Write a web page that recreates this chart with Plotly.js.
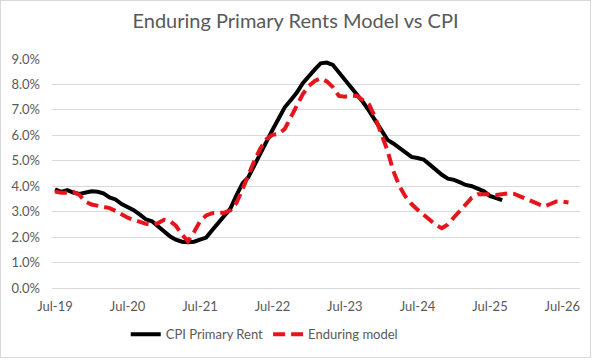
<!DOCTYPE html>
<html>
<head>
<meta charset="utf-8">
<script src="https://cdn.plot.ly/plotly-3.0.1.min.js"></script>
<style>
  html, body { margin: 0; padding: 0; background: #ffffff; }
  #chart { position: absolute; left: 0; top: 0; width: 589px; height: 356px; border: 1px solid #d9d9d9; }
</style>
</head>
<body>
<div id="chart"></div>
<script>
// Monthly observations starting Jul-2019
const startMonth = "2019-07-01";

const seriesNames = ["CPI Primary Rent", "Enduring model"];

// CPI Primary Rent, % y/y, Jul-19 .. Sep-25
const cpiPrimaryRent = [
  3.88, 3.78, 3.85, 3.75, 3.70, 3.76, 3.80, 3.78, 3.72, 3.56, 3.48, 3.30,
  3.20, 3.06, 2.88, 2.70, 2.62, 2.42, 2.22, 2.02, 1.90, 1.82, 1.80, 1.82,
  1.90, 1.98, 2.28, 2.55, 2.82, 3.12, 3.65, 4.12, 4.35, 4.85, 5.27, 5.75,
  6.21, 6.69, 7.10, 7.38, 7.68, 8.05, 8.35, 8.60, 8.83, 8.86, 8.77, 8.48,
  8.18, 7.92, 7.60, 7.30, 6.95, 6.60, 6.25, 5.82, 5.68, 5.50, 5.33, 5.15,
  5.11, 5.05, 4.85, 4.65, 4.45, 4.30, 4.25, 4.15, 4.05, 4.00, 3.92, 3.80,
  3.62, 3.52, 3.45
];

// Enduring model, % y/y, Jul-19 .. Aug-26
const enduringModel = [
  3.79, 3.74, 3.74, 3.78, 3.66, 3.40, 3.28, 3.22, 3.20, 3.14, 3.03, 2.90,
  2.76, 2.68, 2.58, 2.52, 2.48, 2.55, 2.68, 2.62, 2.45, 2.10, 1.84, 2.20,
  2.62, 2.85, 2.94, 2.94, 2.96, 3.05, 3.35, 3.90, 4.45, 5.00, 5.48, 5.85,
  6.02, 6.06, 6.25, 6.68, 7.15, 7.62, 7.95, 8.15, 8.24, 8.12, 7.90, 7.55,
  7.52, 7.56, 7.55, 7.38, 7.20, 6.70, 6.10, 5.40, 4.60, 4.00, 3.60, 3.30,
  3.08, 2.88, 2.70, 2.48, 2.35, 2.50, 2.78, 3.05, 3.33, 3.55, 3.68, 3.70,
  3.68, 3.66, 3.68, 3.72, 3.70, 3.60, 3.53, 3.42, 3.30, 3.20, 3.30, 3.40,
  3.40, 3.36
];

const yTickVals = [0, 1, 2, 3, 4, 5, 6, 7, 8, 9];
const yTickLabels = ["0.0%", "1.0%", "2.0%", "3.0%", "4.0%", "5.0%", "6.0%", "7.0%", "8.0%", "9.0%"];

function monthDates(n) {
  const out = [];
  const [y0, m0] = startMonth.split("-").map(Number);
  for (let i = 0; i < n; i++) {
    const t = (m0 - 1) + i;
    const y = y0 + Math.floor(t / 12);
    const m = (t % 12) + 1;
    out.push(y + "-" + String(m).padStart(2, "0") + "-01");
  }
  return out;
}

const font = "Lato, 'Open Sans', 'DejaVu Sans', sans-serif";

const traces = [
  {
    x: monthDates(cpiPrimaryRent.length),
    y: cpiPrimaryRent,
    name: seriesNames[0],
    type: "scatter",
    mode: "lines",
    line: { color: "#000000", width: 4, shape: "linear" }
  },
  {
    x: monthDates(enduringModel.length),
    y: enduringModel,
    name: seriesNames[1],
    type: "scatter",
    mode: "lines",
    line: { color: "#e8141b", width: 4, dash: "12px,6px" }
  }
];

const layout = {
  width: 589,
  height: 356,
  margin: { l: 51, r: 10, t: 58, b: 69 },
  paper_bgcolor: "#ffffff",
  plot_bgcolor: "#ffffff",
  font: { family: font, color: "#595959", size: 13 },
  title: {
    text: "Enduring Primary Rents Model vs CPI",
    font: { family: font, size: 20, color: "#595959" },
    x: 0.5, xanchor: "center",
    y: 0.945, yref: "container", yanchor: "middle"
  },
  xaxis: {
    type: "date",
    range: ["2019-06-16", "2026-09-28"],
    tick0: "2019-07-01",
    dtick: "M12",
    tickformat: "%b-%y",
    showgrid: false,
    zeroline: false,
    showline: false,
    ticks: "",
    automargin: false,
    ticklabelstandoff: 9,
    tickfont: { family: font, size: 13, color: "#595959" }
  },
  yaxis: {
    range: [0, 9],
    tickmode: "array",
    tickvals: yTickVals,
    ticktext: yTickLabels,
    showgrid: true,
    gridcolor: "#d9d9d9",
    gridwidth: 1,
    zeroline: true,
    zerolinecolor: "#d9d9d9",
    zerolinewidth: 1,
    showline: false,
    ticks: "",
    automargin: false,
    ticklabelstandoff: 11,
    tickfont: { family: font, size: 13, color: "#595959" }
  },
  showlegend: true,
  legend: {
    orientation: "h",
    x: 0.402, xanchor: "center",
    yref: "container",
    y: 0.064, yanchor: "middle",
    font: { family: font, size: 13, color: "#595959" },
    itemwidth: 30,
    tracegroupgap: 0
  }
};

Plotly.newPlot("chart", traces, layout, { displayModeBar: false, staticPlot: true });
</script>
</body>
</html>
